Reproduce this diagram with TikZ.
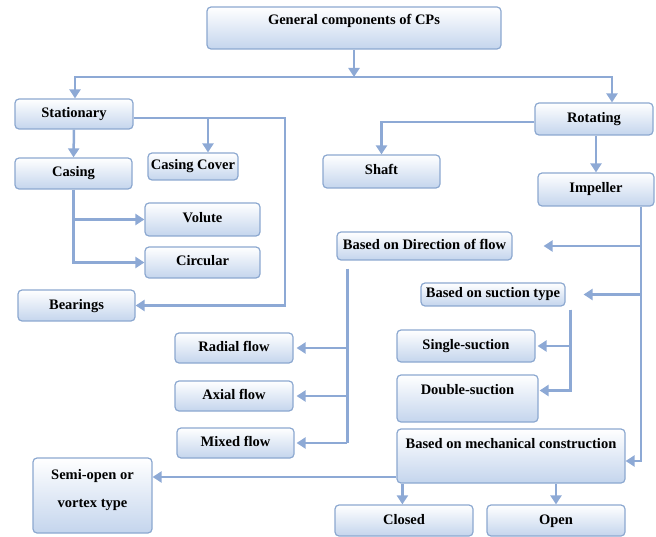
\documentclass[tikz,border=0pt]{standalone}
\usepackage{fontspec}
\setmainfont{Liberation Serif}
\usetikzlibrary{arrows.meta}
\definecolor{lineblue}{RGB}{141,169,213}
\definecolor{edgeblue}{RGB}{140,168,208}
\definecolor{fillblue}{RGB}{196,213,237}
\begin{document}
\begin{tikzpicture}[x=1pt,y=-1pt,
  box/.style={draw=edgeblue, line width=1.2pt, rounded corners=4pt, top color=white, bottom color=fillblue,
    inner sep=0pt, font=\fontsize{14.5}{17}\selectfont\bfseries, text height=10pt, text depth=3pt, align=center},
  conn/.style={draw=lineblue, line width=2.5pt},
  arr/.style={conn, -{Triangle[length=9pt,width=11pt]}}]
\useasboundingbox (0,0) rectangle (656,537);

% nodes
\node[box, minimum width=294pt, minimum height=42pt, text depth=17pt] (gen) at (354,28) {General components of CPs};
\node[box, minimum width=118pt, minimum height=30pt] (stat) at (74,114) {Stationary};
\node[box, minimum width=118pt, minimum height=32pt] (rot) at (594,119) {Rotating};
\node[box, minimum width=90pt, minimum height=27pt] (ccov) at (193,166.5) {Casing Cover};
\node[box, minimum width=117pt, minimum height=31pt] (cas) at (73.5,173.5) {Casing};
\node[box, minimum width=117pt, minimum height=33pt] (shaft) at (381.5,171.5) {Shaft};
\node[box, minimum width=116pt, minimum height=33pt] (imp) at (596,189.5) {Impeller};
\node[box, minimum width=115pt, minimum height=33pt] (vol) at (202.5,219.5) {Volute};
\node[box, minimum width=115pt, minimum height=31pt] (circ) at (202.5,262.5) {Circular};
\node[box, minimum width=117pt, minimum height=31pt] (bear) at (76.5,305.5) {Bearings};
\node[box, minimum width=175pt, minimum height=28pt] (dir) at (424.5,246) {Based on Direction of flow};
\node[box, minimum width=144pt, minimum height=23pt] (suc) at (493,294.5) {Based on suction type};
\node[box, minimum width=118pt, minimum height=30pt] (rad) at (234,348) {Radial flow};
\node[box, minimum width=118pt, minimum height=30pt] (ax) at (234,396) {Axial flow};
\node[box, minimum width=117pt, minimum height=30pt] (mix) at (235.5,443) {Mixed flow};
\node[box, minimum width=138pt, minimum height=32pt] (sgl) at (466,346) {Single-suction};
\node[box, minimum width=141pt, minimum height=47pt, text depth=18pt] (dbl) at (467.5,398.5) {Double-suction};
\node[box, minimum width=228pt, minimum height=54pt, text depth=25pt] (mech) at (511,456) {Based on mechanical construction};
\node[box, minimum width=119pt, minimum height=75pt, text height=33pt, text depth=10pt,
      font=\fontsize{14.5}{28}\selectfont\bfseries] (semi) at (92.5,495.5) {Semi-open or\\vortex type};
\node[box, minimum width=138pt, minimum height=31pt] (closed) at (404,520.5) {Closed};
\node[box, minimum width=138pt, minimum height=31pt] (open) at (556,520.5) {Open};

% helper coordinates
\coordinate (hl) at (75,77);
\coordinate (hr) at (612,77);
\coordinate (hm) at (gen.south |- hl);
\coordinate (sr) at (285,118);
\coordinate (cb) at (208,118);
\coordinate (rx) at (641,0);
\coordinate (dv) at ([xshift=11pt,yshift=-8pt]dir.south west);
\coordinate (sv) at ([xshift=5pt,yshift=-3pt]suc.south east);
\coordinate (ml) at ([yshift=-21pt]mech.west);
\coordinate (mc) at ([xshift=6pt]mech.south west);

% top level
\draw[arr] (gen.south) -- (hm);
\draw[arr] (hm) -| (hl |- stat.north);
\draw[arr] (hm) -| (hr |- rot.north);

% stationary branch
\draw[arr] ([yshift=-4pt]stat.east) -- (sr) |- (bear.east);
\draw[arr] (cb) -- (cb |- ccov.north);
\draw[arr] (stat.south) -- (cas.north);
\draw[arr] (cas.south) |- (vol.west);
\draw[arr] (cas.south) |- (circ.west);

% rotating branch
\draw[arr] ([yshift=-3pt]rot.west) -| (shaft.north);
\draw[arr] (imp.north |- rot.south) -- (imp.north);
\draw[arr] (imp.south -| rx) |- ([yshift=-5pt]mech.east);
\draw[arr] (rx |- dir.east) -- ([xshift=31pt]dir.east);
\draw[arr] (rx |- suc.east) -- ([xshift=18pt]suc.east);

% direction of flow
\draw[conn] (dv) -- (dv |- mix.east);
\draw[arr] (dv |- rad.east) -- ([xshift=3pt]rad.east);
\draw[arr] (dv |- ax.east) -- ([xshift=3pt]ax.east);
\draw[arr] (dv |- mix.east) -- ([xshift=2pt]mix.east);

% suction type
\draw[arr] (sv) |- ([xshift=2pt]sgl.east);
\draw[arr] (sv) |- ([yshift=8pt,xshift=1pt]dbl.east);

% mechanical construction
\draw[arr] (ml) -- (ml -| semi.east);
\draw[arr] (mc) -- (mc |- closed.north);
\draw[arr] (mech.south -| open.north) -- (open.north);
\end{tikzpicture}
\end{document}
